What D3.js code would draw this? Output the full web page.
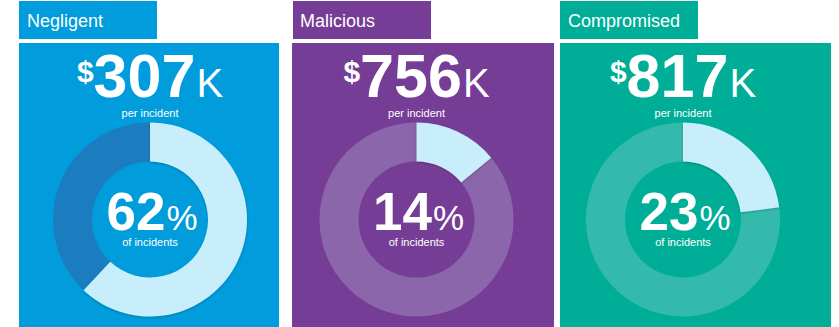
<!DOCTYPE html>
<html>
<head>
<meta charset="utf-8">
<script src="https://cdn.jsdelivr.net/npm/d3@7"></script>
<style>
  body { margin: 0; background: #fff; }
  svg { display: block; font-family: "Liberation Sans", Arial, Helvetica, sans-serif; }
</style>
</head>
<body>
<svg id="chart" width="839" height="327"></svg>
<script>
// data
var categories = ["Negligent", "Malicious", "Compromised"];
var costK = [307, 756, 817];        // $K per incident
var sharePct = [62, 14, 23];        // % of incidents

// styles
var panelColors = ["#009cdb", "#763d96", "#00ae98"];
var restColors = ["#1c7cc0", "#8c66aa", "#33baac"];
var sliceColor = "#c8eefc";

// panel boxes (background only)
var panelLeft = [19, 292, 560];
var panelRight = [279, 554, 831];

var svg = d3.select("#chart");

var color = d3.scaleOrdinal().domain(categories).range(panelColors);
var rest = d3.scaleOrdinal().domain(categories).range(restColors);
var cx = d3.scalePoint().domain(categories).range([150, 683]);

var defs = svg.append("defs");
var f = defs.append("filter").attr("id", "shadow")
    .attr("x", "-20%").attr("y", "-20%").attr("width", "140%").attr("height", "140%");
f.append("feDropShadow").attr("dx", 0).attr("dy", 1).attr("stdDeviation", 1.2)
    .attr("flood-color", "#000").attr("flood-opacity", 0.25);

var rows = categories.map(function (c, i) {
    return { cat: c, cost: costK[i], pct: sharePct[i], x0: panelLeft[i], x1: panelRight[i] };
});

var g = svg.selectAll("g.panel").data(rows).enter().append("g").attr("class", "panel");

// header tab
g.append("rect")
    .attr("x", d => d.x0 + (d.cat === "Malicious" ? 1 : 0))
    .attr("y", 1)
    .attr("width", 138)
    .attr("height", 38)
    .attr("fill", d => color(d.cat));

g.append("text")
    .attr("x", d => d.x0 + 8)
    .attr("y", 27)
    .attr("fill", "#fff")
    .attr("font-size", 18)
    .text(d => d.cat);

// main panel
g.append("rect")
    .attr("x", d => d.x0)
    .attr("y", 43)
    .attr("width", d => d.x1 - d.x0)
    .attr("height", 284)
    .attr("fill", d => color(d.cat));

// cost line
var cost = g.append("text")
    .attr("x", d => cx(d.cat))
    .attr("y", 97)
    .attr("text-anchor", "middle")
    .attr("fill", "#fff");
cost.append("tspan").attr("font-size", 30).attr("font-weight", "bold").attr("dy", -15).text("$");
cost.append("tspan").attr("font-size", 61).attr("font-weight", "bold").attr("dy", 15).text(d => d.cost);
cost.append("tspan").attr("font-size", 40).attr("dx", 1).text("K");

g.append("text")
    .attr("x", d => cx(d.cat))
    .attr("y", 117)
    .attr("text-anchor", "middle")
    .attr("fill", "#fff")
    .attr("font-size", 11)
    .text("per incident");

// donuts
var arc = d3.arc().innerRadius(58).outerRadius(97);
var pie = d3.pie().sort(null).value(v => v);

g.each(function (d) {
    var dg = d3.select(this).append("g")
        .attr("transform", "translate(" + cx(d.cat) + ",219.5)");
    var slices = pie([d.pct, 100 - d.pct]);
    dg.append("path").attr("d", arc(slices[1])).attr("fill", rest(d.cat));
    dg.append("path").attr("d", arc(slices[0])).attr("fill", sliceColor)
        .attr("filter", "url(#shadow)");

    var t = dg.append("text").attr("x", 2).attr("y", 10.5)
        .attr("text-anchor", "middle").attr("fill", "#fff");
    t.append("tspan").attr("font-size", 53).attr("font-weight", "bold").text(d.pct);
    t.append("tspan").attr("font-size", 35).attr("dx", 1).text("%");

    dg.append("text").attr("x", 0).attr("y", 26)
        .attr("text-anchor", "middle").attr("fill", "#fff")
        .attr("font-size", 11).text("of incidents");
});
</script>
</body>
</html>
